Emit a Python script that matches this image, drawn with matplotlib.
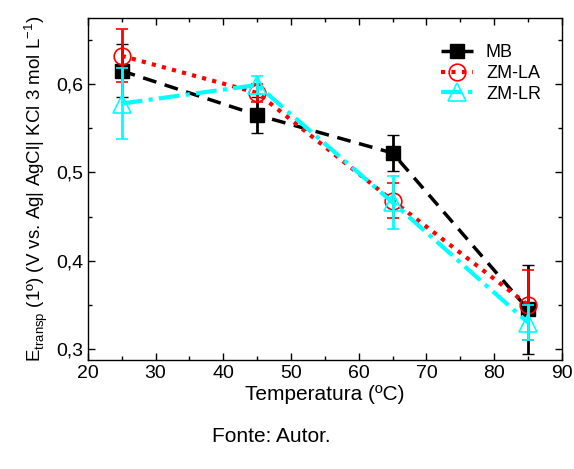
import matplotlib
matplotlib.use("Agg")
import matplotlib.pyplot as plt
from matplotlib.lines import Line2D
from matplotlib.ticker import MultipleLocator, FuncFormatter

plt.rcParams['font.family'] = ['Liberation Sans', 'DejaVu Sans']

temps = [25, 45, 65, 85]

mb = [0.615, 0.565, 0.522, 0.345]
mb_err = [0.03, 0.02, 0.02, 0.05]

zm_la = [0.632, 0.590, 0.468, 0.350]
zm_la_err = [0.03, 0.01, 0.02, 0.04]

zm_lr = [0.578, 0.599, 0.466, 0.330]
zm_lr_err = [0.04, 0.01, 0.03, 0.02]

fig = plt.figure(figsize=(5.74, 4.69), dpi=100)
ax = fig.add_axes([0.153, 0.232, 0.826, 0.730])

styles = [
    dict(color='black', ls=(0, (4, 2.5)), lw=2.5, marker='s', ms=10,
         mfc='black', mec='black', mew=1.0),
    dict(color='red', ls=(0, (1, 1.5)), lw=3, marker='o', ms=12,
         mfc='none', mec='red', mew=1.2),
    dict(color='cyan', ls=(0, (5, 1.5, 1, 1.5)), lw=3, marker='^', ms=13,
         mfc='none', mec='cyan', mew=1.2),
]
series = [(mb, mb_err, 'MB'), (zm_la, zm_la_err, 'ZM-LA'), (zm_lr, zm_lr_err, 'ZM-LR')]

handles = []
for z, ((vals, errs, name), st) in enumerate(zip(series, styles)):
    ax.errorbar(temps, vals, yerr=errs, capsize=4, elinewidth=2, capthick=2,
                zorder=3 + z, **st)
    handles.append(Line2D([], [], label=name, **st))

ax.set_xlim(20, 90)
ax.set_ylim(0.2875, 0.675)
ax.xaxis.set_major_locator(MultipleLocator(10))
ax.xaxis.set_minor_locator(MultipleLocator(5))
ax.yaxis.set_major_locator(MultipleLocator(0.1))
ax.yaxis.set_minor_locator(MultipleLocator(0.05))
ax.yaxis.set_major_formatter(FuncFormatter(lambda v, p: f"{v:.1f}".replace('.', ',')))
ax.tick_params(which='both', direction='in', top=True, right=True, labelsize=14, width=1)
ax.tick_params(which='major', length=5)
ax.tick_params(which='minor', length=3)
for s in ax.spines.values():
    s.set_linewidth(1)

ax.set_xlabel('Temperatura (ºC)', fontsize=15, labelpad=2)
ax.set_ylabel('E$_{\\mathregular{transp}}$ (1º) (V vs. Ag| AgCl| KCl 3 mol L$^{\\mathregular{-1}}$)',
              fontsize=13.5, labelpad=4)

ax.legend(handles=handles, loc='upper right', bbox_to_anchor=(0.99, 0.97), frameon=False,
          fontsize=13, handlelength=1.8, handletextpad=0.7, labelspacing=0.2)

fig.text(0.473, 0.07, 'Fonte: Autor.', ha='center', va='center', fontsize=15)

fig.savefig('out.png', dpi=100)
